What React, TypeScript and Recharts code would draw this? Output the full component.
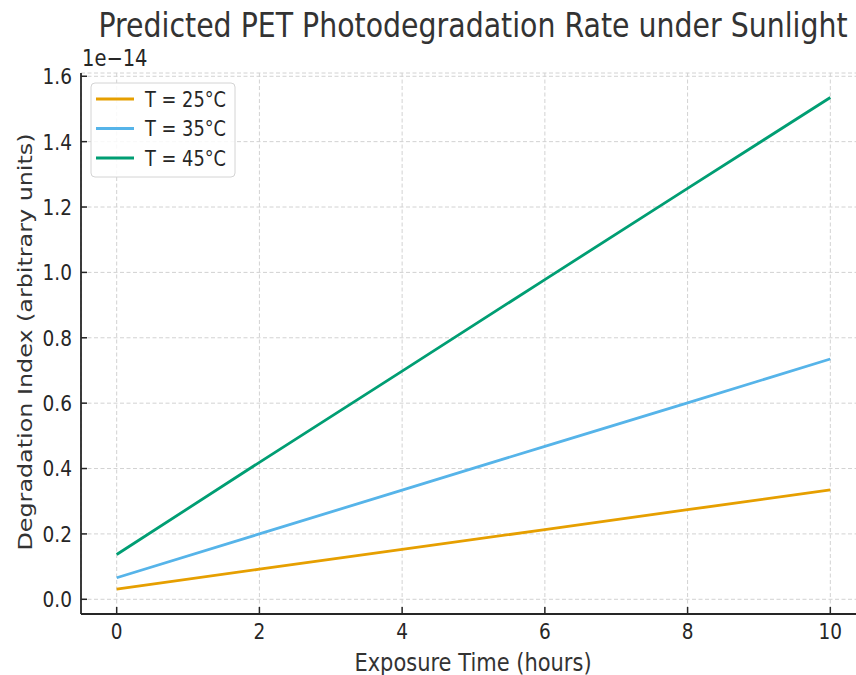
import { LineChart, Line, XAxis, YAxis, CartesianGrid } from "recharts"

// exposure time in hours
const hours = [0, 2, 4, 6, 8, 10]
// degradation index, in units of 1e-14
const t25 = [0.031, 0.092, 0.153, 0.213, 0.274, 0.335]
const t35 = [0.066, 0.2, 0.334, 0.468, 0.601, 0.735]
const t45 = [0.137, 0.419, 0.698, 0.978, 1.257, 1.535]

const xTicks = [0, 2, 4, 6, 8, 10]
const yTicks = [0, 0.2, 0.4, 0.6, 0.8, 1.0, 1.2, 1.4, 1.6]

const series = [
  { key: "t25", name: "T = 25°C", color: "#E69F00" },
  { key: "t35", name: "T = 35°C", color: "#56B4E9" },
  { key: "t45", name: "T = 45°C", color: "#009E73" },
]

const data = hours.map((h, i) => ({ h, t25: t25[i], t35: t35[i], t45: t45[i] }))

const FONT = "DejaVu Sans, sans-serif"
const INK = "#262626"
// the reference text is a bit taller than it is wide
const SY = 1.18

function XTick(props: any) {
  const { x, payload } = props
  return (
    <text
      transform={`translate(${x},639) scale(1,${SY})`}
      textAnchor="middle"
      fontFamily={FONT}
      fontSize={18.5}
      fill={INK}
    >
      {payload.value}
    </text>
  )
}

function YTick(props: any) {
  const { y, payload } = props
  return (
    <text
      transform={`translate(72,${y}) scale(1,${SY})`}
      textAnchor="end"
      dy="0.36em"
      fontFamily={FONT}
      fontSize={18.5}
      fill={INK}
    >
      {Number(payload.value).toFixed(1)}
    </text>
  )
}

function Overlay() {
  return (
    <svg width={856} height={675} style={{ position: "absolute", left: 0, top: 0, pointerEvents: "none" }}>
      <text transform={`translate(473,37) scale(1,${SY})`} textAnchor="middle" fontFamily={FONT} fontSize={28.4} fill="#333">
        Predicted PET Photodegradation Rate under Sunlight
      </text>
      <text transform={`translate(82,66) scale(1,${SY})`} fontFamily={FONT} fontSize={19.5} fill={INK}>
        1e−14
      </text>
      <text transform={`translate(473,671) scale(1,${SY})`} textAnchor="middle" fontFamily={FONT} fontSize={21} fill="#333">
        Exposure Time (hours)
      </text>
      <text
        transform={`translate(32,342) scale(1,${SY}) rotate(-90)`}
        textAnchor="middle"
        fontFamily={FONT}
        fontSize={20.2}
        fill="#333"
      >
        Degradation Index (arbitrary units)
      </text>
      <rect x={91} y={83} width={144} height={94} rx={4} fill="#fff" fillOpacity={0.85} stroke="#d4d4d4" strokeWidth={1} />
      {series.map((s, i) => {
        const cy = 99 + i * 29.5
        return (
          <g key={s.key}>
            <line x1={96} x2={134} y1={cy} y2={cy} stroke={s.color} strokeWidth={2.8} />
            <text
              transform={`translate(145,${cy}) scale(1,${SY})`}
              dy="0.36em"
              fontFamily={FONT}
              fontSize={17.8}
              fill={INK}
            >
              {s.name}
            </text>
          </g>
        )
      })}
    </svg>
  )
}

export default function App() {
  return (
    <div style={{ position: "absolute", left: 0, top: 0, width: 856, height: 675, overflow: "hidden", background: "#fff" }}>
      <LineChart width={866} height={675} data={data} margin={{ top: 73, right: 0, left: 0, bottom: 0 }}>
        <CartesianGrid stroke="#d2d2d2" strokeDasharray="4 2.5" strokeWidth={1} />
        <XAxis
          dataKey="h"
          type="number"
          domain={[-0.5, 10.5]}
          ticks={xTicks}
          allowDataOverflow
          height={61}
          tick={<XTick />}
          tickSize={-7}
          tickLine={{ stroke: INK, strokeWidth: 1.5 }}
          axisLine={{ stroke: INK, strokeWidth: 1.8 }}
        />
        <YAxis
          type="number"
          domain={[-0.045, 1.61]}
          ticks={yTicks}
          allowDataOverflow
          width={81}
          tick={<YTick />}
          tickSize={-6}
          tickLine={{ stroke: INK, strokeWidth: 1.5 }}
          axisLine={{ stroke: INK, strokeWidth: 1.8 }}
        />
        {series.map((s) => (
          <Line
            key={s.key}
            dataKey={s.key}
            name={s.name}
            stroke={s.color}
            strokeWidth={2.8}
            dot={false}
            type="linear"
            isAnimationActive={false}
          />
        ))}
      </LineChart>
      <Overlay />
    </div>
  )
}
